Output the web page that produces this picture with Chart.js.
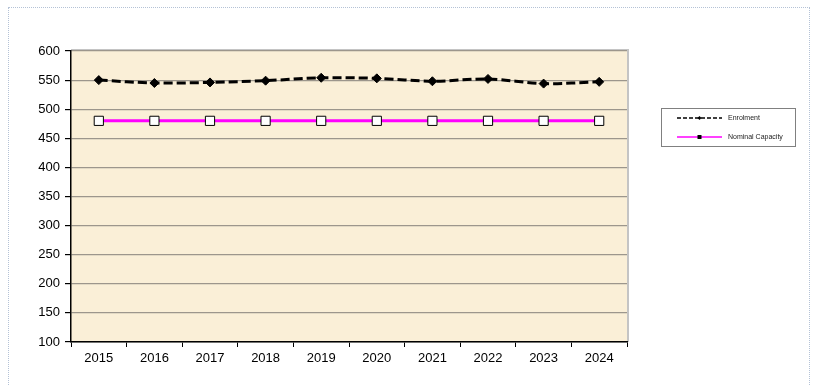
<!DOCTYPE html>
<html>
<head>
<meta charset="utf-8">
<script src="https://cdn.jsdelivr.net/npm/chart.js@4"></script>
<style>
  html, body { margin: 0; padding: 0; background: #fff; }
  #wrap { position: relative; width: 817px; height: 385px; overflow: hidden; }
  #frame { position: absolute; left: 8px; top: 7px; width: 802px; height: 400px; border: 1px dotted #b4c2d6; box-sizing: border-box; }
  canvas { position: absolute; left: 0; top: 0; }
</style>
</head>
<body>
<div id="wrap">
  <div id="frame"></div>
  <canvas id="c" width="817" height="385"></canvas>
</div>
<script>
const years = ['2015','2016','2017','2018','2019','2020','2021','2022','2023','2024'];
const enrolment = [550, 545, 546, 549, 554, 553, 548, 552, 544, 547];
const nominalCapacity = [480, 480, 480, 480, 480, 480, 480, 480, 480, 480];
const yTicks = [100, 150, 200, 250, 300, 350, 400, 450, 500, 550, 600];

const bgPlugin = {
  id: 'bg',
  beforeDraw(chart) {
    const {ctx, chartArea: a} = chart;
    ctx.save();
    ctx.fillStyle = '#FAEFD7';
    ctx.fillRect(a.left, a.top, a.right - a.left, a.bottom - a.top);
    ctx.strokeStyle = '#c4c4c4';
    ctx.lineWidth = 2;
    ctx.beginPath();
    ctx.moveTo(a.left, a.top - 1);
    ctx.lineTo(a.right + 1, a.top - 1);
    ctx.lineTo(a.right + 1, a.bottom);
    ctx.stroke();
    ctx.restore();
  }
};

const legendPlugin = {
  id: 'customLegend',
  afterDraw(chart) {
    const ctx = chart.ctx;
    const x0 = 661, y0 = 108, w = 134, h = 38;
    ctx.save();
    ctx.strokeStyle = '#808080';
    ctx.lineWidth = 1;
    ctx.strokeRect(x0 + 0.5, y0 + 0.5, w, h);
    const ds = chart.data.datasets;
    const rows = [118, 137];
    ds.forEach((d, i) => {
      const y = rows[i];
      ctx.beginPath();
      ctx.strokeStyle = d.borderColor;
      ctx.lineWidth = 1.5;
      ctx.setLineDash(i === 0 ? [4, 2] : []);
      ctx.moveTo(677, y);
      ctx.lineTo(722, y);
      ctx.stroke();
      ctx.setLineDash([]);
      ctx.fillStyle = '#000';
      if (i === 0) {
        ctx.beginPath();
        ctx.moveTo(699.5, y - 2); ctx.lineTo(701.5, y); ctx.lineTo(699.5, y + 2); ctx.lineTo(697.5, y);
        ctx.closePath(); ctx.fill();
      } else {
        ctx.fillRect(697.5, y - 2, 4, 4);
      }
      ctx.fillStyle = '#222';
      ctx.font = '7px "Liberation Sans", Arial, sans-serif';
      ctx.textBaseline = 'middle';
      ctx.fillText(d.label, 728, y);
    });
    ctx.restore();
  }
};

new Chart(document.getElementById('c'), {
  type: 'line',
  data: {
    labels: years,
    datasets: [
      {
        label: 'Enrolment',
        data: enrolment,
        borderColor: '#000000',
        backgroundColor: '#000000',
        borderWidth: 3,
        borderDash: [9, 4],
        pointStyle: 'rectRot',
        pointRadius: 4.5,
        pointBorderWidth: 1,
        pointBackgroundColor: '#000',
        pointBorderColor: '#000',
        tension: 0.3,
        fill: false
      },
      {
        label: 'Nominal Capacity',
        data: nominalCapacity,
        borderColor: '#FF00FF',
        backgroundColor: '#FF00FF',
        borderWidth: 3,
        pointStyle: 'rect',
        pointRadius: 6.5,
        pointBorderWidth: 1,
        pointBackgroundColor: '#ffffff',
        pointBorderColor: '#000000',
        fill: false
      }
    ]
  },
  options: {
    responsive: false,
    animation: false,
    devicePixelRatio: 1,
    layout: { padding: { top: 51, right: 190, left: 0, bottom: 0 } },
    plugins: { legend: { display: false }, tooltip: { enabled: false } },
    scales: {
      x: {
        offset: true,
        grid: { offset: true, drawOnChartArea: false, drawTicks: true, tickLength: 5, tickColor: '#000', color: '#000' },
        border: { color: '#000', width: 1.5 },
        ticks: { color: '#000', padding: 4, font: { family: '"Liberation Sans", Arial, sans-serif', size: 13 }, maxRotation: 0 },
        afterFit(s) { s.height = 43; }
      },
      y: {
        min: 100, max: 600,
        afterBuildTicks(s) { s.ticks = yTicks.map(v => ({ value: v })); },
        grid: { color: '#9c968c', lineWidth: 1.2, tickLength: 6, tickColor: '#000' },
        border: { color: '#000', width: 1.5 },
        ticks: { color: '#000', padding: 5, font: { family: '"Liberation Sans", Arial, sans-serif', size: 13 } },
        afterFit(s) { s.width = 71; }
      }
    }
  },
  plugins: [bgPlugin, legendPlugin]
});
</script>
</body>
</html>
